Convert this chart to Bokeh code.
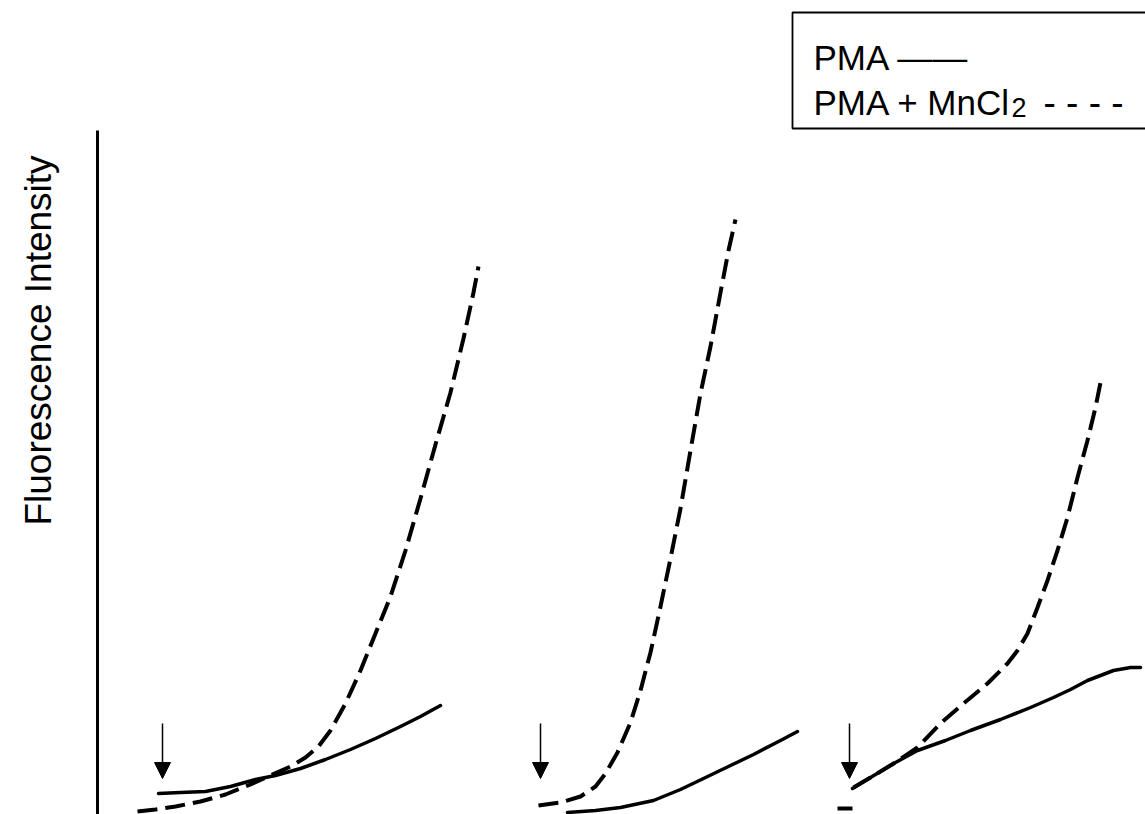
import math
from bokeh.plotting import figure
from bokeh.models import Range1d, Label, Arrow, NormalHead, BoxAnnotation
from bokeh.embed import file_html
from bokeh.resources import INLINE

# ---- data (time in arbitrary units, fluorescence intensity in arbitrary units) ----
p1_t_mn = [137, 155, 175, 200, 225, 250, 270, 290, 305, 318, 330, 345, 360, 375, 390, 405, 420, 435, 450, 463, 473, 478]
p1_f_mn = [3, 5, 8, 13, 20, 30, 39, 48, 57, 68, 84, 111, 144, 181, 218, 264, 316, 370, 422, 476, 522, 548]
p1_t_pma = [158, 180, 205, 230, 255, 275, 300, 325, 350, 375, 400, 420, 440]
p1_f_pma = [21, 22, 23, 28, 35, 39, 46, 55, 65, 76, 88, 98, 109]

p2_t_mn = [538, 560, 580, 595, 605, 617, 630, 640, 650, 660, 670, 680, 690, 700, 710, 720, 728, 735]
p2_f_mn = [9, 12, 18, 28, 41, 62, 92, 124, 162, 208, 256, 306, 364, 421, 468, 522, 564, 595]
p2_t_pma = [567, 595, 620, 653, 680, 703, 730, 753, 780, 797]
p2_f_pma = [2, 4, 7, 14, 25, 36, 49, 60, 74, 83]

p3_t_mn = [853, 870, 893, 917, 940, 963, 987, 1007, 1017, 1027, 1037, 1047, 1057, 1067, 1077, 1087, 1095, 1100]
p3_f_mn = [27, 37, 51, 67, 91, 111, 131, 151, 164, 181, 207, 234, 264, 297, 337, 374, 407, 432]
p3_t_pma = [852, 870, 895, 917, 945, 970, 1000, 1030, 1053, 1070, 1087, 1113, 1130, 1140]
p3_f_pma = [26, 37, 52, 64, 74, 84, 95, 107, 117, 125, 134, 144, 147, 147]
p3_t_base = [837, 852]
p3_f_base = [6, 6]

# time points of stimulus addition (arrows)
addition_t = [162, 540, 849]
arrow_f_start = 91
arrow_f_end = 36

# intensity axis: position on the time scale and its extent
axis_t = 97
axis_f_max = 684

y_label = "Fluorescence Intensity"
legend_pma = "PMA \u2014\u2014"
legend_mn = "PMA + MnCl"
legend_mn_sub = "2"
legend_mn_dash = "- - - -"

W, H = 1145, 814
FONT = "Liberation Sans"

p = figure(width=W, height=H, output_backend="svg", toolbar_location=None,
           x_range=Range1d(0, W), y_range=Range1d(0, H),
           x_axis_type=None, y_axis_type=None, min_border=0)
p.outline_line_color = None
p.grid.visible = False
p.background_fill_color = "white"
p.border_fill_color = "white"

# vertical intensity axis line
p.add_layout(Arrow(x_start=axis_t, y_start=0, x_end=axis_t, y_end=axis_f_max,
                   start=None, end=None, line_color="black", line_width=3))

# y-axis title
p.add_layout(Label(x=38, y=H - 340, text=y_label, text_font=FONT, text_font_size="37px",
                   text_color="black", angle=math.pi / 2, text_align="center",
                   text_baseline="middle"))

dash = dict(line_color="black", line_width=4, line_dash="20 8", line_cap="butt")
solid = dict(line_color="black", line_width=3.5, line_join="round", line_cap="round")

for t, f in [(p1_t_mn, p1_f_mn), (p2_t_mn, p2_f_mn), (p3_t_mn, p3_f_mn)]:
    p.line(t, f, **dash)
for t, f in [(p1_t_pma, p1_f_pma), (p2_t_pma, p2_f_pma), (p3_t_pma, p3_f_pma)]:
    p.line(t, f, **solid)
p.line(p3_t_base, p3_f_base, line_color="black", line_width=4, line_cap="butt")

for t in addition_t:
    p.add_layout(Arrow(x_start=t, y_start=arrow_f_start, x_end=t, y_end=arrow_f_end,
                       line_color="black", line_width=1.5,
                       end=NormalHead(size=16, fill_color="black", line_color="black", line_width=1)))

# legend box
p.add_layout(BoxAnnotation(left=792, right=W + 20, top=H - 12, bottom=H - 128,
                           fill_color=None, fill_alpha=0, line_color="black",
                           line_alpha=1.0, line_width=1.8))
p.add_layout(Label(x=813, y=H - 57, text=legend_pma, text_font=FONT, text_font_size="35px",
                   text_color="black", text_baseline="alphabetic"))
p.add_layout(Label(x=813, y=H - 102, text=legend_mn, text_font=FONT, text_font_size="35px",
                   text_color="black", text_baseline="alphabetic"))
p.add_layout(Label(x=1011, y=H - 107, text=legend_mn_sub, text_font=FONT, text_font_size="27px",
                   text_color="black", text_baseline="alphabetic"))
p.add_layout(Label(x=1043, y=H - 102, text=legend_mn_dash, text_font=FONT, text_font_size="37px",
                   text_color="black", text_baseline="alphabetic"))

open("out.html", "w").write(file_html(p, INLINE))
